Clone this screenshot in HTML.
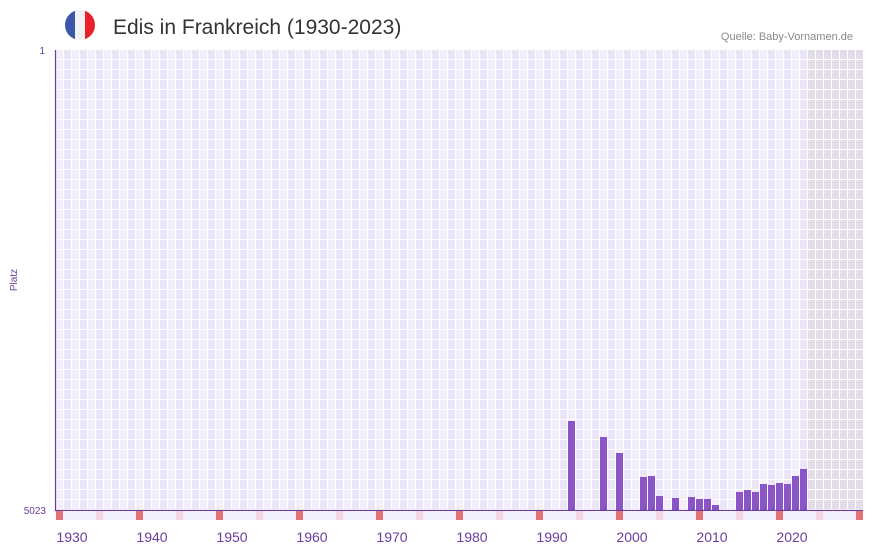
<!DOCTYPE html>
<html><head><meta charset="utf-8"><style>
body{margin:0;background:#fff;font-family:"Liberation Sans",sans-serif}
</style></head><body>
<svg width="873" height="552" xmlns="http://www.w3.org/2000/svg" font-family="Liberation Sans, sans-serif">
<defs>
<clipPath id="fc"><circle cx="80" cy="25" r="15"/></clipPath>
<pattern id="g" x="56" y="50" width="16" height="10" patternUnits="userSpaceOnUse">
<rect width="16" height="10" fill="#fff"/>
<rect x="0" y="0" width="7" height="9" fill="#f2eefb"/>
<rect x="8" y="0" width="7" height="9" fill="#ebe6f7"/>
</pattern>
<pattern id="g2" x="56" y="50" width="8" height="10" patternUnits="userSpaceOnUse">
<rect width="8" height="10" fill="#fff"/>
<rect x="0" y="0" width="7" height="9" fill="#e2dde9"/>
</pattern>
</defs>
<g clip-path="url(#fc)">
<rect x="65" y="10" width="11" height="30" fill="#3a56a6"/>
<rect x="75" y="10" width="10" height="30" fill="#f1f1f3"/>
<rect x="85" y="10" width="11" height="30" fill="#e8202b"/>
</g>
<text x="113" y="34" font-size="21" fill="#333">Edis in Frankreich (1930-2023)</text>
<text x="853" y="40" font-size="11" fill="#888" text-anchor="end">Quelle: Baby-Vornamen.de</text>
<rect x="56" y="50" width="752" height="460" fill="url(#g)"/>
<rect x="808" y="50" width="55" height="460" fill="url(#g2)"/>
<g id="strip"></g>
<g fill="#8b55c8">
<rect x="568" y="421" width="7" height="89"/>
<rect x="600" y="437" width="7" height="73"/>
<rect x="616" y="453" width="7" height="57"/>
<rect x="640" y="477" width="7" height="33"/>
<rect x="648" y="476" width="7" height="34"/>
<rect x="656" y="496" width="7" height="14"/>
<rect x="672" y="498" width="7" height="12"/>
<rect x="688" y="497" width="7" height="13"/>
<rect x="696" y="499" width="7" height="11"/>
<rect x="704" y="499" width="7" height="11"/>
<rect x="712" y="505" width="7" height="5"/>
<rect x="736" y="492" width="7" height="18"/>
<rect x="744" y="490" width="7" height="20"/>
<rect x="752" y="492" width="7" height="18"/>
<rect x="760" y="484" width="7" height="26"/>
<rect x="768" y="485" width="7" height="25"/>
<rect x="776" y="483" width="7" height="27"/>
<rect x="784" y="484" width="7" height="26"/>
<rect x="792" y="476" width="7" height="34"/>
<rect x="800" y="469" width="7" height="41"/>
</g>
<line x1="55.5" y1="50" x2="55.5" y2="511" stroke="#6a3d9a" stroke-width="1.2"/>
<line x1="55" y1="510.5" x2="863" y2="510.5" stroke="#6a3d9a" stroke-width="1.2"/>
<text x="45" y="54" font-size="10" fill="#6a3d9a" text-anchor="end">1</text>
<text x="46" y="514" font-size="10" fill="#6a3d9a" text-anchor="end">5023</text>
<text transform="translate(17,280) rotate(-90)" font-size="10" fill="#6a3d9a" text-anchor="middle">Platz</text>
<g font-size="14" fill="#6a3d9a" text-anchor="middle">
<text x="72" y="542">1930</text><text x="152" y="542">1940</text><text x="232" y="542">1950</text>
<text x="312" y="542">1960</text><text x="392" y="542">1970</text><text x="472" y="542">1980</text>
<text x="552" y="542">1990</text><text x="632" y="542">2000</text><text x="712" y="542">2010</text>
<text x="792" y="542">2020</text>
</g>
<g>
<rect x="56" y="511" width="807" height="9" fill="#f2eefb"/>
<g fill="#e57179">
<rect x="56" y="511" width="7" height="9"/><rect x="136" y="511" width="7" height="9"/><rect x="216" y="511" width="7" height="9"/><rect x="296" y="511" width="7" height="9"/><rect x="376" y="511" width="7" height="9"/><rect x="456" y="511" width="7" height="9"/><rect x="536" y="511" width="7" height="9"/><rect x="616" y="511" width="7" height="9"/><rect x="696" y="511" width="7" height="9"/><rect x="776" y="511" width="7" height="9"/><rect x="856" y="511" width="7" height="9"/>
</g>
<g fill="#f5d6e0">
<rect x="96" y="511" width="7" height="9"/><rect x="176" y="511" width="7" height="9"/><rect x="256" y="511" width="7" height="9"/><rect x="336" y="511" width="7" height="9"/><rect x="416" y="511" width="7" height="9"/><rect x="496" y="511" width="7" height="9"/><rect x="576" y="511" width="7" height="9"/><rect x="656" y="511" width="7" height="9"/><rect x="736" y="511" width="7" height="9"/><rect x="816" y="511" width="7" height="9"/>
</g>
</g>
</svg>
</body></html>
